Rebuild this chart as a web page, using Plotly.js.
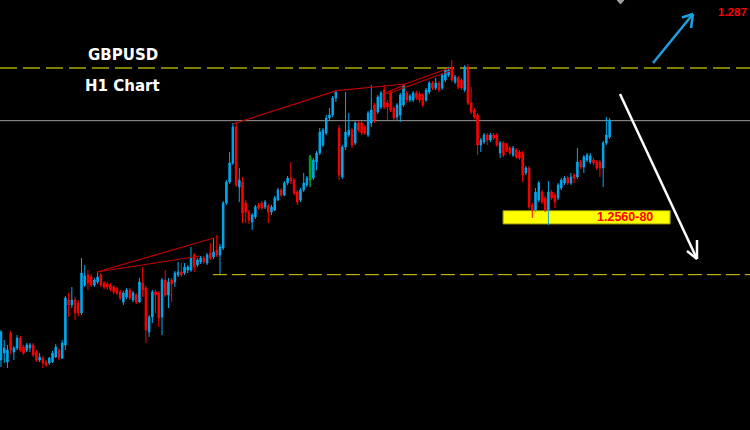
<!DOCTYPE html>
<html><head><meta charset="utf-8">
<script src="https://cdn.plot.ly/plotly-3.0.1.min.js"></script>
<style>html,body{margin:0;padding:0;background:#000;overflow:hidden}#chart{width:750px;height:430px}</style>
</head><body><div id="chart"></div><script>
// GBPUSD H1 candles
const openP=[
1.23560,1.23665,1.23530,1.23965,1.23680,1.23740,1.23890,1.23755,1.23710,1.23740,
1.23785,1.23680,1.23560,1.23590,1.23530,1.23515,1.23530,1.23605,1.23710,1.23590,
1.23785,1.24460,1.24385,1.24460,1.24415,1.24265,1.24685,1.24835,1.24805,1.24685,
1.24730,1.24835,1.24715,1.24700,1.24685,1.24655,1.24625,1.24580,1.24430,1.24505,
1.24610,1.24460,1.24535,1.24430,1.24715,1.24640,1.23980,1.24205,1.24580,1.24565,
1.24205,1.24760,1.24535,1.24760,1.24730,1.24835,1.24880,1.24865,1.24910,1.24910,
1.25135,1.24985,1.25030,1.25090,1.25015,1.25165,1.25105,1.25210,1.25135,1.25240,
1.25915,1.26230,1.26515,1.27055,1.26155,1.26230,1.25915,1.25780,1.25630,1.25705,
1.25885,1.25915,1.25855,1.25870,1.25780,1.25810,1.25960,1.26110,1.26035,1.26215,
1.26290,1.26260,1.26080,1.25960,1.26110,1.26185,1.26260,1.26290,1.26530,1.26665,
1.26785,1.26965,1.27190,1.27235,1.27490,1.27040,1.26305,1.26755,1.26935,1.27010,
1.26815,1.27115,1.27115,1.27055,1.26935,1.27115,1.27385,1.27280,1.27355,1.27610,
1.27415,1.27580,1.27340,1.27205,1.27235,1.27385,1.27565,1.27460,1.27460,1.27565,
1.27550,1.27535,1.27460,1.27580,1.27715,1.27640,1.27715,1.27640,1.27760,1.27835,
1.27955,1.27730,1.27790,1.27760,1.27610,1.27955,1.27415,1.27310,1.27235,1.26785,
1.26830,1.26935,1.26860,1.26935,1.26935,1.26665,1.26815,1.26785,1.26740,1.26635,
1.26710,1.26680,1.26665,1.26365,1.26440,1.25885,1.25810,1.25960,1.26080,1.25990,
1.25810,1.26080,1.26035,1.25990,1.26140,1.26215,1.26290,1.26215,1.26335,1.26305,
1.26530,1.26455,1.26560,1.26530,1.26560,1.26530,1.26530,1.26440,1.26815,1.26905];
const highP=[
1.24010,1.23860,1.23785,1.23995,1.23770,1.23935,1.23920,1.23785,1.23815,1.23815,
1.23815,1.23710,1.23665,1.23620,1.23560,1.23605,1.23695,1.23800,1.23740,1.23860,
1.24520,1.24565,1.24655,1.24505,1.24460,1.25090,1.24985,1.24910,1.24850,1.24790,
1.24880,1.24865,1.24745,1.24730,1.24715,1.24685,1.24655,1.24610,1.24595,1.24640,
1.24640,1.24595,1.24565,1.24790,1.24955,1.24670,1.24235,1.24610,1.24610,1.24595,
1.24790,1.24910,1.24790,1.24790,1.24895,1.25030,1.25015,1.25015,1.24985,1.25255,
1.25165,1.25090,1.25120,1.25120,1.25165,1.25315,1.25390,1.25435,1.25300,1.25945,
1.26260,1.26680,1.27115,1.27130,1.26440,1.26305,1.25960,1.25810,1.25765,1.25885,
1.25915,1.25945,1.25960,1.25900,1.25885,1.26020,1.26140,1.26140,1.26245,1.26320,
1.26530,1.26290,1.26110,1.26140,1.26365,1.26320,1.26635,1.26590,1.26695,1.27040,
1.27040,1.27235,1.27340,1.27520,1.27610,1.27085,1.26785,1.27580,1.27265,1.27040,
1.27145,1.27145,1.27145,1.27085,1.27295,1.27685,1.27415,1.27535,1.27595,1.27685,
1.27460,1.27610,1.27370,1.27415,1.27565,1.27700,1.27595,1.27550,1.27595,1.27595,
1.27580,1.27565,1.27640,1.27745,1.27745,1.27790,1.27745,1.27865,1.27940,1.27955,
1.28060,1.27835,1.27820,1.27790,1.27985,1.28000,1.27655,1.27340,1.27265,1.26890,
1.26965,1.26965,1.26965,1.26965,1.26965,1.26845,1.26845,1.26815,1.26770,1.26770,
1.26740,1.26710,1.26695,1.26470,1.26470,1.25915,1.26140,1.26245,1.26110,1.26020,
1.26245,1.26110,1.26065,1.26215,1.26290,1.26320,1.26320,1.26365,1.26365,1.26740,
1.26560,1.26635,1.26665,1.26665,1.26590,1.26560,1.26560,1.26845,1.27205,1.27190];
const lowP=[
1.23455,1.23515,1.23440,1.23650,1.23560,1.23710,1.23680,1.23635,1.23680,1.23680,
1.23605,1.23530,1.23530,1.23440,1.23455,1.23485,1.23515,1.23590,1.23560,1.23575,
1.23710,1.24205,1.24340,1.24160,1.24220,1.24235,1.24655,1.24610,1.24655,1.24655,
1.24700,1.24655,1.24625,1.24610,1.24595,1.24550,1.24535,1.24460,1.24385,1.24475,
1.24460,1.24430,1.24400,1.24415,1.24505,1.23815,1.23905,1.24115,1.24265,1.24055,
1.23935,1.24505,1.24340,1.24430,1.24655,1.24805,1.24805,1.24835,1.24865,1.24880,
1.24880,1.24955,1.25000,1.25000,1.24985,1.25060,1.25075,1.25105,1.24850,1.25210,
1.25885,1.26200,1.26485,1.26155,1.25930,1.25615,1.25615,1.25600,1.25510,1.25675,
1.25810,1.25810,1.25825,1.25615,1.25735,1.25795,1.25945,1.26005,1.26020,1.26185,
1.26200,1.26035,1.25885,1.25930,1.26080,1.26155,1.26155,1.26260,1.26410,1.26635,
1.26755,1.26935,1.27160,1.27205,1.27430,1.26260,1.26275,1.26710,1.26905,1.26740,
1.26785,1.26980,1.26935,1.26935,1.26905,1.27055,1.27115,1.27250,1.27325,1.27325,
1.27160,1.27280,1.27160,1.27160,1.27130,1.27355,1.27415,1.27430,1.27430,1.27460,
1.27415,1.27355,1.27430,1.27550,1.27610,1.27610,1.27580,1.27610,1.27730,1.27805,
1.27730,1.27700,1.27625,1.27610,1.27580,1.27385,1.27250,1.27175,1.26635,1.26680,
1.26800,1.26785,1.26830,1.26860,1.26755,1.26590,1.26605,1.26680,1.26635,1.26605,
1.26575,1.26560,1.26230,1.26335,1.25825,1.25690,1.25780,1.25930,1.25900,1.25780,
1.25585,1.25960,1.25840,1.25960,1.26110,1.26185,1.26185,1.26185,1.26215,1.26275,
1.26425,1.26365,1.26530,1.26500,1.26485,1.26410,1.26305,1.26155,1.26785,1.26875];
const closeP=[
1.23980,1.23740,1.23710,1.23710,1.23740,1.23890,1.23710,1.23665,1.23785,1.23785,
1.23635,1.23560,1.23605,1.23515,1.23485,1.23590,1.23665,1.23755,1.23590,1.23815,
1.24490,1.24385,1.24460,1.24265,1.24265,1.24865,1.24820,1.24715,1.24685,1.24760,
1.24805,1.24685,1.24655,1.24655,1.24625,1.24580,1.24565,1.24490,1.24565,1.24610,
1.24490,1.24565,1.24430,1.24730,1.24610,1.24010,1.24205,1.24580,1.24535,1.24190,
1.24760,1.24535,1.24730,1.24700,1.24865,1.24880,1.24835,1.24955,1.24955,1.25090,
1.24955,1.25060,1.25090,1.25030,1.25135,1.25090,1.25180,1.25135,1.25255,1.25915,
1.26230,1.26515,1.27055,1.26185,1.26260,1.25765,1.25780,1.25660,1.25735,1.25855,
1.25840,1.25840,1.25930,1.25780,1.25855,1.25990,1.26110,1.26035,1.26215,1.26290,
1.26245,1.26065,1.25930,1.26110,1.26215,1.26290,1.26605,1.26560,1.26665,1.26980,
1.27010,1.27190,1.27235,1.27490,1.27580,1.26335,1.26755,1.26980,1.27010,1.26785,
1.27115,1.27010,1.26965,1.26965,1.27265,1.27310,1.27160,1.27505,1.27565,1.27355,
1.27355,1.27310,1.27190,1.27385,1.27535,1.27685,1.27460,1.27520,1.27565,1.27490,
1.27460,1.27385,1.27610,1.27715,1.27640,1.27715,1.27610,1.27835,1.27910,1.27910,
1.27760,1.27805,1.27655,1.27640,1.27955,1.27415,1.27280,1.27205,1.26785,1.26860,
1.26935,1.26860,1.26935,1.26890,1.26785,1.26815,1.26635,1.26710,1.26665,1.26740,
1.26605,1.26590,1.26335,1.26440,1.25855,1.25810,1.26080,1.26215,1.25930,1.25810,
1.26080,1.25990,1.25930,1.26185,1.26260,1.26290,1.26215,1.26305,1.26290,1.26530,
1.26455,1.26605,1.26635,1.26620,1.26515,1.26440,1.26440,1.26815,1.26935,1.27160];
const GREEN_IDX=96;
const LEVEL_TOP=1.2794, LEVEL_MID=1.2715, LEVEL_LOW=1.2484;
const ZONE_LOW=1.2560, ZONE_HIGH=1.2580;
const titleText='GBPUSD', subText='H1 Chart', zoneText='1.2560-80', topText='1.287';

const idx=openP.map((_,i)=>i);
const W=750,H=430;
const P=(px,py)=>[px/W,1-py/H];
function seg(a,b,c,d,color,width){const p=P(a,b),q=P(c,d);
 return {type:'line',xref:'paper',yref:'paper',x0:p[0],y0:p[1],x1:q[0],y1:q[1],line:{color:color,width:width}};}
function dseg(x0,y0,x1,y1){return {type:'line',xref:'x',yref:'y',x0:x0,y0:y0,x1:x1,y1:y1,line:{color:'#c00000',width:1.2}};}

const main={type:'candlestick',x:idx,open:openP,high:highP,low:lowP,close:closeP,
 increasing:{line:{color:'#00aaf0',width:1},fillcolor:'#00aaf0'},
 decreasing:{line:{color:'#ff0000',width:1},fillcolor:'#ff0000'},
 whiskerwidth:0,hoverinfo:'skip',showlegend:false};
const green={type:'candlestick',x:[GREEN_IDX],open:[openP[GREEN_IDX]],high:[highP[GREEN_IDX]],low:[lowP[GREEN_IDX]],close:[closeP[GREEN_IDX]],
 increasing:{line:{color:'#00a000',width:1},fillcolor:'#00a000'},
 decreasing:{line:{color:'#00a000',width:1},fillcolor:'#00a000'},
 whiskerwidth:0,hoverinfo:'skip',showlegend:false};

const tri=[P(617,0),P(624,0),P(620.5,4)];
const shapes=[
 {type:'rect',layer:'below',xref:'x',yref:'y',x0:155.9,x1:207.8,y0:ZONE_LOW,y1:ZONE_HIGH,fillcolor:'#ffff00',line:{color:'#8a8a00',width:1}},
 {type:'line',layer:'below',xref:'paper',yref:'y',x0:0,x1:1,y0:LEVEL_TOP,y1:LEVEL_TOP,line:{color:'#808000',width:2,dash:'17px,6px'}},
 {type:'line',layer:'below',xref:'paper',yref:'y',x0:0,x1:1,y0:LEVEL_MID,y1:LEVEL_MID,line:{color:'#9a9a9a',width:1}},
 {type:'line',layer:'below',xref:'x',yref:'y',x0:65.8,x1:232.6,y0:LEVEL_LOW,y1:LEVEL_LOW,line:{color:'#e0d400',width:1,dash:'14px,5px'}},
 dseg(29.8,1.2488,66.1,1.2539), dseg(29.8,1.2488,61.8,1.2512),
 dseg(72.0,1.2710,104.3,1.2760), dseg(104.3,1.2760,125.5,1.2770),
 dseg(119.3,1.27565,125.5,1.2769), dseg(125.5,1.2770,139.4,1.2794),
 dseg(119.9,1.2755,139.4,1.27895),
 seg(653,63,693,14,'#1e9fe0',2.5), seg(693,14,682,17.5,'#1e9fe0',2.5), seg(693,14,691,28,'#1e9fe0',2.5),
 seg(620,94,697,259,'#ffffff',2.5), seg(697,259,687,251,'#ffffff',2.5), seg(697,259,697,240,'#ffffff',2.5),
 {type:'path',xref:'paper',yref:'paper',path:`M${tri[0][0]},${tri[0][1]} L${tri[1][0]},${tri[1][1]} L${tri[2][0]},${tri[2][1]} Z`,fillcolor:'#a0a0a0',line:{color:'#a0a0a0',width:1}}
];
const bold={family:'DejaVu Sans',size:15,color:'#ffffff',weight:'bold'};
const annotations=[
 {xref:'paper',yref:'paper',x:P(123,55)[0],y:P(123,55)[1],text:titleText,showarrow:false,xanchor:'center',yanchor:'middle',font:bold},
 {xref:'paper',yref:'paper',x:P(122.5,86)[0],y:P(122.5,86)[1],text:subText,showarrow:false,xanchor:'center',yanchor:'middle',font:bold},
 {xref:'paper',yref:'paper',x:P(624.7,217)[0],y:P(624.7,217)[1],text:zoneText,showarrow:false,xanchor:'center',yanchor:'middle',font:{family:'Liberation Sans',size:12.5,color:'#ff0000',weight:'bold'}},
 {xref:'paper',yref:'paper',x:P(749,12)[0],y:P(749,12)[1],text:topText,showarrow:false,xanchor:'right',yanchor:'middle',font:{family:'Liberation Sans',size:11.5,color:'#ff0000',weight:'bold'}}
];
const layout={width:W,height:H,margin:{l:0,r:0,t:0,b:0,pad:0},paper_bgcolor:'#000',plot_bgcolor:'#000',
 showlegend:false,boxgap:0.35,hovermode:false,
 xaxis:{range:[-0.31,232.6],visible:false,showgrid:false,zeroline:false,rangeslider:{visible:false},fixedrange:true},
 yaxis:{range:[1.2251,1.2896],visible:false,showgrid:false,zeroline:false,fixedrange:true},
 shapes:shapes,annotations:annotations};
Plotly.newPlot('chart',[main,green],layout,{staticPlot:true,displayModeBar:false});
</script></body></html>
